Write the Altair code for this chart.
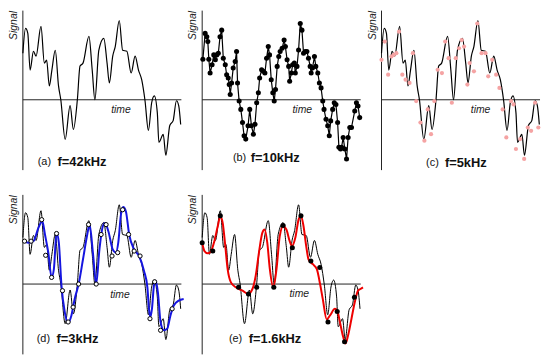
import altair as alt
import pandas as pd

# ---- original signal (42 kHz trace), time in px-units, value in px-units above zero
SIG_T = [0, 2.7, 5, 7.3, 10.7, 13.3, 18.3, 21.7, 24, 26.7, 29.3, 32.7, 36, 38.3, 42.7, 47.7,
         51, 55, 57.7, 60.7, 66.7, 70, 72.7, 76.7, 81.7, 85, 87.3, 90.7, 93.3, 97.3, 100.7,
         105, 109.3, 113.3, 116.7, 120, 123.3, 126.7, 130, 132.7, 135.7, 137.3, 141.7, 144.3,
         148.3, 151.7, 155, 157.3, 159.3]
SIG_V = [47, 72, 67, 30, 49, 44, 74, 37, 40, 14, 30, 50, 14, 0, -40, -6,
         -30, 0, 34, 37, 64, 30, 0, 50, 62, 37, 17, 44, 54, 80, 50,
         49, 27, 44, 30, 20, -1, -31, -3, 4, -13, -43, -35, -56,
         -26, -21, -1, -6, -25]

# ---- 10 kHz samples
S10_T = [0.7, 3, 4.7, 5.7, 6.7, 8, 10, 11.7, 13.3, 14.7, 16.3, 18, 19.7, 21.3, 23.3, 24.7,
         26.3, 27.3, 28.3, 29.7, 31.3, 33.3, 34.7, 35.7, 37.3, 39, 40.7, 42.3, 44, 46.3, 48,
         49.7, 51.7, 53.3, 55, 56.7, 58, 60, 61.7, 63.3, 65, 66.7, 68, 69.7, 71.3, 72.7, 74,
         75.7, 77.3, 78.7, 80.7, 82.7, 84, 85.7, 87.3, 88.3, 90, 91.3, 93, 94, 95.7, 97.3, 99,
         100.7, 102.3, 104, 105.7, 107.3, 109, 110, 111.3, 113.3, 114.7, 116.7, 118.3, 120,
         121.7, 123, 125, 126.7, 128.3, 129.7, 131.7, 133.3, 135, 136.7, 138, 139.7, 140.7,
         142.3, 144, 145.7, 147.3, 149, 150.7, 154, 155.7, 157.3, 159]
S10_V = [41, 67, 63.7, 58.7, 41, 27, 35.3, 45.3, 40.3, 45.3, 47, 63.7, 70.3, 42, 35.3, 25.3,
         22, 15.3, 5.3, 17, 32, 38.7, 48.7, 17, -1.3, -9.7, -23, -36.3, -39.7, -26.3, -9.7,
         -26.3, -34.7, -24.7, -3, 7, 22, 30.3, 28.7, 27, 42, 53.7, 45.3, 20.3, 7, -1.3, 10.3,
         33.7, 43.7, 48.7, 52, 60.3, 53.7, 40.3, 33.7, 18.7, 27, 35.3, 37, 27, 33.7, 50.3, 77,
         70.3, 47, 48.7, 48.7, 42, 33.7, 27, 32, 43.7, 33.7, 27, 17, 12,
         -1.3, -9.7, -19.7, -26.3, -36.3, -21.3, -9.7, -3, -4.7, -23, -48, -49.7, -48,
         -38, -49.7, -59.7, -38, -28, -28, -11.3, -3, -6.3, -18]

# ---- 5 kHz samples
S5_T = [0, 3.3, 6.7, 10, 12.3, 15, 17.7, 21, 24.3, 28.3, 31.7, 35, 39.3, 43.3, 46.7, 50,
        53.3, 56.7, 61, 64.3, 67.7, 71, 75, 78.3, 81, 83.3, 86.7, 89, 93.3, 96.7, 101, 105,
        107.7, 111.7, 115.7, 119, 122.3, 126, 130.7, 133.3, 135.7, 140, 144, 147.7, 151,
        155, 158.3]
S5_V = [40.3, 58.7, 25.3, 43.7, 45.3, 47, 68.7, 25.3, 20.3, 17, 47, -1.3, -23, -41.3, -9.7,
        -34.7, -1.3, 30.3, 27, 58.7, 42, -3, 42, 52, 60.3, 53.7, 15.3, 37, 28.7, 77, 47, 47,
        23.7, 40.3, 25.3, 12, -9.7, -38, -1.3, -4.7, -49.7, -39.7, -59.7, -28, -31.3,
        -3, -28]

# ---- 3 kHz samples and reconstruction
S3_T = [1.7, 8.3, 19, 23, 29, 34, 40, 45.7, 50.7, 56.3, 66.3, 74, 79, 84, 90, 95.7, 100.7,
        106.7, 112.3, 118.3, 128.3, 133, 139, 150.7]
S3_V = [43.3, 43.3, 65, 29, 6.7, 51, -6.7, -38.3, -23.3, 0, 60, 0, 50, 60, 28.3, 31.7, 75,
        50, 33.3, 28.3, -35, 2.3, -46.7, -25]
REC3_T = [0.7, 5.7, 10.7, 15.7, 19.7, 22.3, 25.7, 29, 31.3, 34, 36.3, 39, 42.3, 45.7, 49,
          52.3, 56.3, 60.7, 65, 67.3, 70.7, 74, 77.3, 80.7, 83, 86.3, 90.7, 94, 96.3, 99,
          101.3, 104, 107.3, 112.3, 117.3, 122.3, 125.7, 127.3, 128.7, 130.3, 132.3, 134,
          136.3, 139, 142.3, 145.7, 149, 152.3, 157.3, 162.3]
REC3_V = [43.3, 41.7, 43.3, 56.7, 63.3, 50, 31.7, 6.7, 15, 51.7, 41.7, -1.7, -28.3, -39.3,
          -31.7, -15, 0, 25, 50, 60, 31.7, 0, 35, 58.3, 61.7, 53.3, 35, 31.7, 41.7, 70, 77.7,
          73.3, 50, 35, 28.3, 13.3, -3.3, -25, -33.3, -25, -1.7, 3.3, -8.3, -38.3, -46.7,
          -45, -31.7, -21.7, -16.7, -15]

# ---- 1.6 kHz samples and reconstruction
S16_T = [0, 10.7, 18.3, 36.7, 46.7, 55, 72.3, 81.7, 91, 99.7, 109.7, 118.7, 127, 136.3,
         143.7, 153.7]
S16_V = [41.7, 33.3, 69, -3.3, -10, -3.3, -3.3, 59, 36.7, 69, 23.3, 16.7, -38.3, -27.7,
         -58.3, -13.3]
REC16_T = [0, 2.3, 5.7, 9, 12.3, 15.7, 18.3, 20.7, 23, 25.7, 29, 34, 40.7, 46.3, 50.7, 54,
           57.3, 60.7, 63, 65.7, 68.3, 71.7, 75, 78.3, 81.7, 85, 88.3, 90.7, 94, 97.3, 99.7,
           102.3, 105, 107.3, 111.7, 115.7, 119, 121.7, 125.7, 129, 134, 136.3, 139, 142.3,
           144.7, 147.3, 150.7, 154, 157.3, 159.7, 162.3]
REC16_V = [41.7, 33.3, 31, 33.3, 43.3, 58.3, 68.3, 61.7, 41.7, 15, 1.7, -3.3, -6.7, -10, -5,
           8.3, 31.7, 51.7, 55, 41.7, 15, -3.3, 15, 48.3, 58.3, 55, 43.3, 38.3, 46.7, 65, 69,
           58.3, 38.3, 25, 20, 15, 0, -15, -35.7, -31.7, -25, -26.7, -38.3, -53.3,
           -60, -51.7, -35, -18.3, -6.7, -5, -3.3]

PANEL_TAGS = ["(a)", "(b)", "(c)", "(d)", "(e)"]
FREQ_TAGS = ["f=42kHz", "f=10kHz", "f=5kHz", "f=3kHz", "f=1.6kHz"]
Y_TITLE = "Signal"
X_TITLE = "time"

T_MIN, T_MAX = 0, 160
V_MIN, V_MAX = -71, 90
W, H = 160, 161
FONT = "Liberation Sans"

sx = alt.Scale(domain=[T_MIN, T_MAX], nice=False, zero=False)
sy = alt.Scale(domain=[V_MIN, V_MAX], nice=False, zero=False)


def X(f):
    return alt.X(f, type="quantitative", scale=sx, axis=None)


def Y(f):
    return alt.Y(f, type="quantitative", scale=sy, axis=None)


def XD(v):
    return alt.XDatum(v, scale=sx, axis=None)


def YD(v):
    return alt.YDatum(v, scale=sy, axis=None)


ONE = alt.Data(values=[{"k": 0}])


def df(t, v):
    return pd.DataFrame({"t": t, "v": v})


def frame(i, tag_x, freq_x, lab_y, time_x, time_y):
    yaxis = alt.Chart(ONE).mark_rule(color="#222", strokeWidth=1).encode(
        x=XD(T_MIN), y=YD(V_MIN), y2=alt.datum(V_MAX))
    xaxis = alt.Chart(ONE).mark_rule(color="#222", strokeWidth=1).encode(
        y=YD(0), x=XD(T_MIN), x2=alt.datum(T_MAX))
    ylab = alt.Chart(ONE).mark_text(text=Y_TITLE, angle=270, fontStyle="italic",
                                    fontSize=10.5, font=FONT, color="#222",
                                    baseline="middle").encode(x=XD(-9), y=YD(75))
    xlab = alt.Chart(ONE).mark_text(text=X_TITLE, fontStyle="italic", fontSize=10.5,
                                    font=FONT, color="#222", baseline="middle").encode(
        x=XD(time_x), y=YD(time_y))
    tag = alt.Chart(ONE).mark_text(text=PANEL_TAGS[i], fontSize=11, font=FONT,
                                   color="#111", align="left", baseline="middle").encode(
        x=XD(tag_x), y=YD(lab_y))
    freq = alt.Chart(ONE).mark_text(text=FREQ_TAGS[i], fontSize=13, fontWeight="bold",
                                    font=FONT, color="#111", align="left",
                                    baseline="middle").encode(x=XD(freq_x), y=YD(lab_y))
    return [yaxis, xaxis, ylab, xlab, tag, freq]


def signal(width=1.2):
    return alt.Chart(df(SIG_T, SIG_V)).mark_line(
        color="black", strokeWidth=width, interpolate="monotone").encode(x=X("t"), y=Y("v"))


pa = alt.layer(*frame(0, 15, 35, -63, 99, -10), signal()).properties(width=W, height=H)

pb = alt.layer(
    *frame(1, 31, 49, -59, 101, -10),
    alt.Chart(df(S10_T, S10_V)).mark_line(color="black", strokeWidth=1.2).encode(
        x=X("t"), y=Y("v")),
    alt.Chart(df(S10_T, S10_V)).mark_circle(color="black", size=26, opacity=1).encode(
        x=X("t"), y=Y("v")),
).properties(width=W, height=H)

pc = alt.layer(
    *frame(2, 45, 64, -64, 100, -10),
    signal(),
    alt.Chart(df(S5_T, S5_V)).mark_circle(color="#f5a3a3", size=18, opacity=1).encode(
        x=X("t"), y=Y("v")),
).properties(width=W, height=H)

pd3 = alt.layer(
    *frame(3, 14, 34, -55, 98, -11),
    signal(1),
    alt.Chart(df(REC3_T, REC3_V)).mark_line(color="#1515e0", strokeWidth=2,
                                            interpolate="monotone").encode(
        x=X("t"), y=Y("v")),
    alt.Chart(df(S3_T, S3_V)).mark_point(shape="circle", filled=True, fill="white",
                                         stroke="black", strokeWidth=1, size=18,
                                         opacity=1).encode(x=X("t"), y=Y("v")),
).properties(width=W, height=H)

pe = alt.layer(
    *frame(4, 27, 47, -55, 98, -10),
    signal(1),
    alt.Chart(df(REC16_T, REC16_V)).mark_line(color="#ee0000", strokeWidth=2,
                                              interpolate="monotone").encode(
        x=X("t"), y=Y("v")),
    alt.Chart(df(S16_T, S16_V)).mark_circle(color="black", size=26, opacity=1).encode(
        x=X("t"), y=Y("v")),
).properties(width=W, height=H)

chart = alt.concat(pa, pb, pc, pd3, pe, columns=3,
                   spacing=alt.RowColnumber(row=25, column=21),
                   bounds="flush").properties(
    padding=0, background="white").configure_view(stroke=None)

chart.save("out.html", embed_options={"renderer": "svg", "actions": False})
